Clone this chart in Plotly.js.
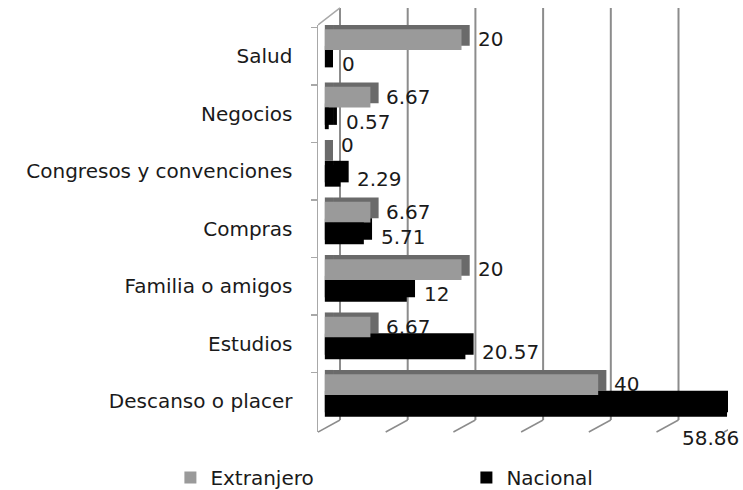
<!DOCTYPE html>
<html>
<head>
<meta charset="utf-8">
<script src="https://cdn.plot.ly/plotly-3.0.1.min.js"></script>
<style>
  html, body { margin: 0; padding: 0; background: #fff; }
  #chart { width: 743px; height: 490px; }
</style>
</head>
<body>
<div id="chart"></div>
<script>
// motivos de viaje, de arriba hacia abajo
const categories = ['Salud', 'Negocios', 'Congresos y convenciones', 'Compras',
                    'Familia o amigos', 'Estudios', 'Descanso o placer'];
const extranjero = [20, 6.67, 0, 6.67, 20, 6.67, 40];
const nacional = [0, 0.57, 2.29, 5.71, 12, 20.57, 58.86];
const backTicks = [0, 10, 20, 30, 40, 50];
const floorTicks = [0, 10, 20, 30, 40, 50, 60];

const FONT = 'DejaVu Sans, sans-serif';
const TXT = '#1a1a1a';
const GRAY = '#9a9a9a';
const GRAY_SIDE = '#6a6a6a';
const DEPTH = 0.075;  // vertical shift of the 3d faces, category units
const DX = 1.2;       // horizontal depth of the 3d faces, x units

const W_EXT = 0.36, OFF_EXT = -0.465;
const W_NAC = 0.375, OFF_NAC = -0.103;

function bar(name, x, opts) {
  return Object.assign({
    type: 'bar', orientation: 'h', name: name, y: categories, x: x,
    hoverinfo: 'skip', showlegend: false
  }, opts);
}

// depth faces on the main x axis (range shifted by DX), fronts on x3
const traces = [
  bar('ext-lado', extranjero, { offset: OFF_EXT - DEPTH, width: W_EXT, marker: { color: GRAY_SIDE } }),
  bar('ext-borde', categories.map(() => DX), { base: -DX, offset: OFF_EXT - DEPTH, width: W_EXT,
      marker: { color: GRAY_SIDE } }),
  bar('nac-lado', nacional, { offset: OFF_NAC - DEPTH, width: W_NAC, marker: { color: '#000' } }),
  bar('nac-borde', categories.map(() => DX), { base: -DX, offset: OFF_NAC - DEPTH, width: W_NAC,
      marker: { color: '#000' } }),
  bar('Extranjero', extranjero, { xaxis: 'x3', offset: OFF_EXT, width: W_EXT,
      marker: { color: GRAY }, showlegend: true }),
  bar('Nacional', nacional, { xaxis: 'x3', offset: OFF_NAC, width: W_NAC,
      marker: { color: '#000' }, showlegend: true })
];

const annotations = [];
categories.forEach((c, i) => {
  annotations.push({
    x: extranjero[i], y: c, xref: 'x3', yref: 'y', text: String(extranjero[i]),
    showarrow: false, xanchor: 'left', yanchor: 'middle', xshift: 14,
    yshift: extranjero[i] === 0 ? 26 : 17,
    font: { family: FONT, size: 20, color: TXT }
  });
  const big = nacional[i] > 55;
  annotations.push({
    x: nacional[i], y: c, xref: 'x3', yref: 'y', text: String(nacional[i]),
    showarrow: false, xanchor: big ? 'right' : 'left', yanchor: 'middle',
    xshift: big ? 14 : 15, yshift: big ? -37 : -8,
    font: { family: FONT, size: 20, color: TXT }
  });
});

// walls of the 3d box
const shapes = [];
backTicks.forEach(v => {
  shapes.push({ type: 'line', xref: 'x2', yref: 'paper', x0: v, x1: v, y0: 0.0295, y1: 1.042,
    line: { color: '#8c8c8c', width: 2 }, layer: 'below' });
});
floorTicks.forEach(v => {
  shapes.push({ type: 'line', xref: 'x2', yref: 'paper', x0: v - 3.25, x1: v, y0: 0, y1: 0.0295,
    line: { color: '#8c8c8c', width: 1.5 }, layer: 'below' });
});
shapes.push({ type: 'line', xref: 'x2', yref: 'paper', x0: -3.25, x1: 0, y0: 1, y1: 1.042,
  line: { color: '#a8a8a8', width: 1.5 }, layer: 'below' });

const hidden = { showgrid: false, zeroline: false, showticklabels: false, showline: false, ticks: '' };

const layout = {
  width: 743, height: 490,
  margin: { l: 318, r: 15, t: 25, b: 58, autoexpand: false },
  paper_bgcolor: '#ffffff', plot_bgcolor: 'rgba(0,0,0,0)',
  font: { family: FONT, size: 20, color: TXT },
  barmode: 'overlay',
  xaxis: Object.assign({ range: [-1 - DX, 59 - DX] }, hidden),
  xaxis2: Object.assign({ range: [-3.25, 57.31], overlaying: 'x' }, hidden),
  xaxis3: Object.assign({ range: [-1, 59], overlaying: 'x' }, hidden),
  yaxis: { type: 'category', autorange: 'reversed', showgrid: false, zeroline: false,
           showline: true, linecolor: '#a8a8a8', linewidth: 1.5,
           ticks: 'outside', tickson: 'boundaries', ticklen: 6, tickcolor: '#a8a8a8',
           tickwidth: 1.5, ticklabelstandoff: 20,
           tickfont: { family: FONT, size: 20, color: TXT } },
  showlegend: true,
  legend: { orientation: 'h', x: -0.36, xanchor: 'left', y: -0.064, yanchor: 'top',
            entrywidth: 251, entrywidthmode: 'pixels', traceorder: 'normal',
            itemwidth: 30,
            font: { family: FONT, size: 20, color: TXT } },
  annotations: annotations,
  shapes: shapes
};

Plotly.newPlot('chart', traces, layout, { displayModeBar: false, staticPlot: true });
</script>
</body>
</html>
